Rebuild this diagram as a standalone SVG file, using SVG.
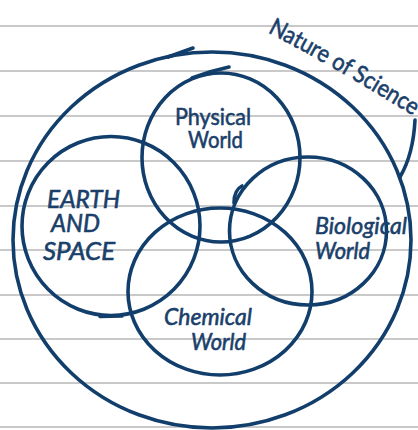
<svg xmlns="http://www.w3.org/2000/svg" width="418" height="430" viewBox="0 0 418 430">
<defs>
<style>
.rule{stroke:#c9c9c9;stroke-width:1.8;fill:none}
.ring{fill:none;stroke:#123e6c;stroke-width:3.6;stroke-linecap:round}
.mark{fill:none;stroke:#123e6c;stroke-width:3.6;stroke-linecap:round}
.lbl{font-family:Lato,"Open Sans","Liberation Sans",sans-serif;font-size:24px;fill:#1a3f6a;stroke:#1a3f6a;stroke-width:0.6}
.it{font-style:italic}
</style>
<path id="nsArc" d="M265,31 Q340,70 420,120"/>
</defs>
<rect width="418" height="430" fill="#ffffff"/>
<g id="paper">
<line class="rule" x1="0" y1="26" x2="418" y2="26"/>
<line class="rule" x1="0" y1="71" x2="418" y2="71"/>
<line class="rule" x1="0" y1="116" x2="418" y2="116"/>
<line class="rule" x1="0" y1="161" x2="418" y2="161"/>
<line class="rule" x1="0" y1="206" x2="418" y2="206"/>
<line class="rule" x1="0" y1="250" x2="418" y2="250"/>
<line class="rule" x1="0" y1="295" x2="418" y2="295"/>
<line class="rule" x1="0" y1="339" x2="418" y2="339"/>
<line class="rule" x1="0" y1="383" x2="418" y2="383"/>
<line class="rule" x1="0" y1="427" x2="418" y2="427"/>
</g>
<g id="nature-of-science">
<ellipse class="ring" cx="212" cy="240" rx="199" ry="188"/>
<path class="mark" d="M168,57 Q182,52 193,48"/>
<path class="mark" d="M415,120 C414,140 410,160 400,177"/>
<text class="lbl" style="font-size:24px"><textPath href="#nsArc" startOffset="3" textLength="168" lengthAdjust="spacingAndGlyphs">Nature of Science</textPath></text>
</g>
<g id="physical-world">
<ellipse class="ring" cx="221" cy="157.5" rx="79" ry="84.5"/>
<path class="mark" d="M192,78 Q210,71 229,67"/>
<text class="lbl" x="175" y="125" textLength="76" lengthAdjust="spacingAndGlyphs">Physical</text>
<text class="lbl" x="188" y="148" textLength="55" lengthAdjust="spacingAndGlyphs">World</text>
</g>
<g id="earth-and-space">
<ellipse class="ring" cx="111" cy="226" rx="89" ry="89.5"/>
<path class="mark" d="M100,316.5 L122,316"/>
<text class="lbl it" style="font-size:26px" x="47" y="208" textLength="73" lengthAdjust="spacingAndGlyphs">EARTH</text>
<text class="lbl it" style="font-size:25px" x="51" y="232" textLength="49" lengthAdjust="spacingAndGlyphs">AND</text>
<text class="lbl it" style="font-size:25px" x="43" y="260" textLength="72" lengthAdjust="spacingAndGlyphs">SPACE</text>
</g>
<g id="biological-world">
<ellipse class="ring" cx="308" cy="231" rx="78.5" ry="74"/>
<path class="mark" d="M234,203 C234,196 236,189 242,186"/>
<text class="lbl it" x="315" y="234" textLength="92" lengthAdjust="spacingAndGlyphs">Biological</text>
<text class="lbl it" x="315" y="259" textLength="55" lengthAdjust="spacingAndGlyphs">World</text>
</g>
<g id="chemical-world">
<ellipse class="ring" cx="220" cy="291.5" rx="92" ry="83.5"/>
<text class="lbl it" x="164" y="325" textLength="88" lengthAdjust="spacingAndGlyphs">Chemical</text>
<text class="lbl it" x="191" y="350" textLength="55" lengthAdjust="spacingAndGlyphs">World</text>
</g>
<g id="connectors"/>
</svg>
